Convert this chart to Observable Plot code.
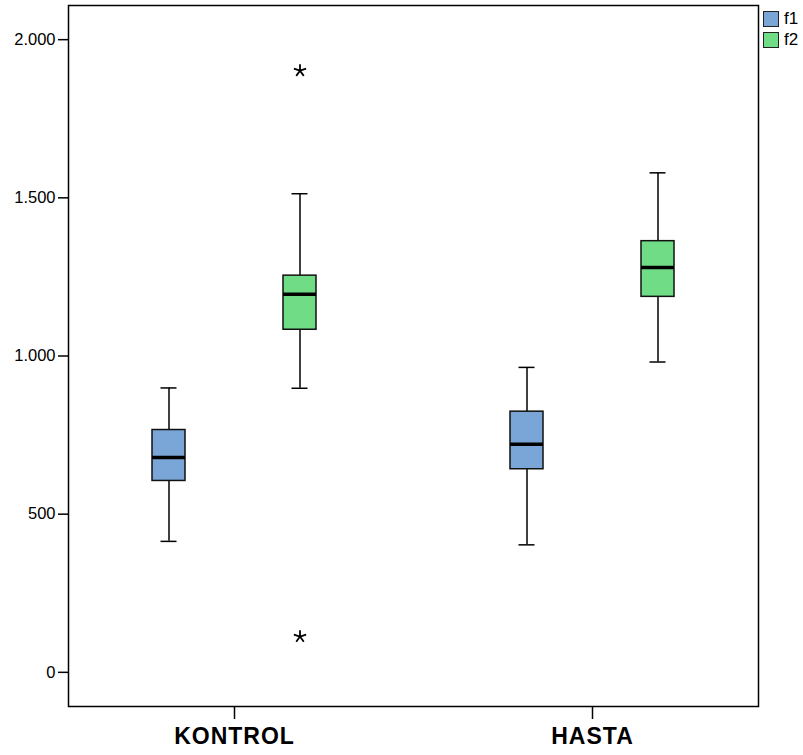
<!DOCTYPE html>
<html>
<head>
<meta charset="utf-8">
<script src="https://cdn.jsdelivr.net/npm/d3@7"></script>
<script src="https://cdn.jsdelivr.net/npm/@observablehq/plot@0.6"></script>
<style>
  html, body { margin: 0; padding: 0; background: #fff; }
  #wrap { position: relative; width: 803px; height: 755px; font-family: "Liberation Sans", Arial, sans-serif; }
  #legend { position: absolute; left: 763px; top: 8px; font-size: 17px; color: #000; }
  .item { display: flex; align-items: center; height: 21px; }
  .sw { width: 14px; height: 14px; border: 1px solid #222; margin-right: 5px; }
</style>
</head>
<body>
<div id="wrap"></div>
<script>
// Summary statistics
const groups      = ["KONTROL", "KONTROL", "HASTA", "HASTA"];
const series      = ["f1", "f2", "f1", "f2"];
const whiskerLow  = [414, 898, 403, 981];
const q1          = [605, 1083, 642, 1187];
const median      = [679, 1195, 721, 1280];
const q3          = [766, 1254, 824, 1363];
const whiskerHigh = [899, 1513, 964, 1579];

// Extreme values (stars)
const outGroups = ["KONTROL", "KONTROL"];
const outSeries = ["f2", "f2"];
const outValues = [1902, 113];

const groupOrder = ["KONTROL", "HASTA"];
const seriesOrder = ["f1", "f2"];
const seriesColors = ["#7aa6d7", "#70dd86"];
const yTicks = [0, 500, 1000, 1500, 2000];

const boxes = groups.map((g, i) => ({
  group: g, series: series[i], lo: whiskerLow[i], q1: q1[i],
  med: median[i], q3: q3[i], hi: whiskerHigh[i]
}));
const outliers = outValues.map((v, i) => ({group: outGroups[i], series: outSeries[i], value: v}));

// five-armed asterisk symbol (SPSS "extreme" marker)
const star5 = {
  draw(ctx, size) {
    const r = Math.sqrt(size) / 1.6;
    for (let k = 0; k < 5; ++k) {
      const a = (k * 2 * Math.PI) / 5;
      ctx.moveTo(0, 0);
      ctx.lineTo(r * Math.sin(a), -r * Math.cos(a));
    }
  }
};

const fontFamily = '"Liberation Sans", Arial, sans-serif';

const chart = Plot.plot({
  width: 803,
  height: 755,
  marginLeft: 67,
  marginRight: 44,
  marginTop: 5,
  marginBottom: 49,
  style: {fontFamily, fontSize: "16.5px", background: "#fff", color: "#000"},
  fx: {domain: groupOrder, paddingInner: 0.1, paddingOuter: 0.0138, label: null},
  x: {domain: seriesOrder, paddingInner: 0.75, paddingOuter: 0.599, axis: null},
  y: {domain: [-108, 2108], label: null},
  color: {domain: seriesOrder, range: seriesColors},
  marks: [
    Plot.frame({facet: "super", stroke: "#000", strokeWidth: 1.5, insetLeft: -5, insetRight: -5}),
    Plot.axisY({ticks: yTicks, tickFormat: d => d3.format(",")(d).replace(/,/g, "."),
      tickSize: 10, tickPadding: 3, fontSize: 16.5, strokeWidth: 1.5, dx: -5, label: null}),
    Plot.axisFx({anchor: "bottom", tickSize: 13, tickPadding: 8, fontSize: 23, fontWeight: "bold",
      strokeWidth: 1.5, label: null}),
    Plot.ruleX(boxes, {fx: "group", x: "series", y1: "lo", y2: "q1", stroke: "#000", strokeWidth: 1.5}),
    Plot.ruleX(boxes, {fx: "group", x: "series", y1: "q3", y2: "hi", stroke: "#000", strokeWidth: 1.5}),
    Plot.tickY(boxes, {fx: "group", x: "series", y: "lo", stroke: "#000", strokeWidth: 1.5, insetLeft: 8.5, insetRight: 8.5}),
    Plot.tickY(boxes, {fx: "group", x: "series", y: "hi", stroke: "#000", strokeWidth: 1.5, insetLeft: 8.5, insetRight: 8.5}),
    Plot.barY(boxes, {fx: "group", x: "series", y1: "q1", y2: "q3", fill: "series", stroke: "#111", strokeWidth: 1.5}),
    Plot.tickY(boxes, {fx: "group", x: "series", y: "med", stroke: "#000", strokeWidth: 3.5}),
    Plot.dot(outliers, {fx: "group", x: "series", y: "value", symbol: star5, r: 5.8, stroke: "#000", strokeWidth: 1.8, fill: "none"})
  ]
});

const svg = d3.select(chart);
svg.selectAll('[aria-label="y-axis tick label"]').attr("font-size", null).style("font-size", "16.5px");
svg.selectAll('[aria-label="y-axis tick label"] text').style("font-size", "16.5px");
svg.selectAll('[aria-label="fx-axis tick label"]').style("font-size", "23px").style("font-weight", "bold");
svg.selectAll('[aria-label="fx-axis tick label"] text')
  .style("font-size", "23px").style("font-weight", "bold").style("letter-spacing", "1px");

const wrap = document.getElementById("wrap");
wrap.appendChild(chart);

const legend = document.createElement("div");
legend.id = "legend";
seriesOrder.forEach((s, i) => {
  const item = document.createElement("div");
  item.className = "item";
  const sw = document.createElement("div");
  sw.className = "sw";
  sw.style.background = seriesColors[i];
  const t = document.createElement("span");
  t.textContent = s;
  item.appendChild(sw);
  item.appendChild(t);
  legend.appendChild(item);
});
wrap.appendChild(legend);
</script>
</body>
</html>
